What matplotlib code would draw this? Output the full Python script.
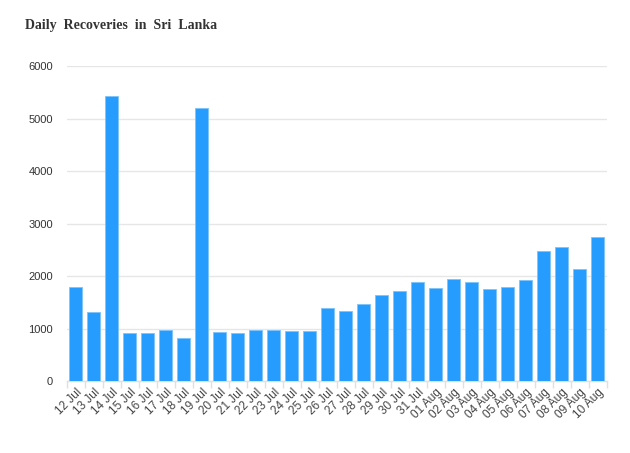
import matplotlib
matplotlib.use('Agg')
import matplotlib.pyplot as plt
import numpy as np

dates = ['12 Jul', '13 Jul', '14 Jul', '15 Jul', '16 Jul', '17 Jul', '18 Jul', '19 Jul',
         '20 Jul', '21 Jul', '22 Jul', '23 Jul', '24 Jul', '25 Jul', '26 Jul', '27 Jul',
         '28 Jul', '29 Jul', '30 Jul', '31 Jul', '01 Aug', '02 Aug', '03 Aug', '04 Aug',
         '05 Aug', '06 Aug', '07 Aug', '08 Aug', '09 Aug', '10 Aug']
recoveries = [1795, 1310, 5440, 918, 918, 968, 822, 5210,
              930, 918, 975, 968, 943, 943, 1394, 1343,
              1476, 1629, 1724, 1895, 1775, 1952, 1882, 1756,
              1800, 1933, 2480, 2556, 2137, 2746]
yticks = [0, 1000, 2000, 3000, 4000, 5000, 6000]

fig = plt.figure(figsize=(6.3, 4.53), dpi=100)
ax = fig.add_axes([0.106, 0.159, 0.857, 0.695])

x = np.arange(len(dates))
ax.bar(x, recoveries, width=0.72, color='#269cfe', edgecolor='#7cc3fb', linewidth=0.6, zorder=3)

ax.set_xlim(-0.5, len(dates) - 0.5)
ax.set_ylim(0, 6000)
ax.set_yticks(yticks)
ax.set_yticklabels([str(v) for v in yticks], fontsize=8, color='#333333', family='Liberation Sans')
ax.grid(axis='y', color='#e6e6e6', linewidth=1, zorder=0)
ax.tick_params(axis='y', length=0, pad=10)

ax.set_xticks(x)
ax.set_xticklabels(dates, rotation=45, ha='right', va='top', rotation_mode='anchor',
                   fontsize=8.5, color='#444444', family='Liberation Sans')
ax.tick_params(axis='x', length=0, pad=4)
ax.set_xticks(np.arange(-0.5, len(dates)), minor=True)
ax.tick_params(axis='x', which='minor', length=5, color='#e0e0e0', width=1)

for side in ['top', 'right', 'left']:
    ax.spines[side].set_visible(False)
ax.spines['bottom'].set_color('#e0e0e0')
ax.spines['bottom'].set_linewidth(1)

fig.text(0.04, 0.943, 'Daily  Recoveries  in  Sri  Lanka', fontsize=10, fontweight='bold',
         family='Liberation Serif', color='#333333', va='center', ha='left')

fig.savefig('out.png', dpi=100)
